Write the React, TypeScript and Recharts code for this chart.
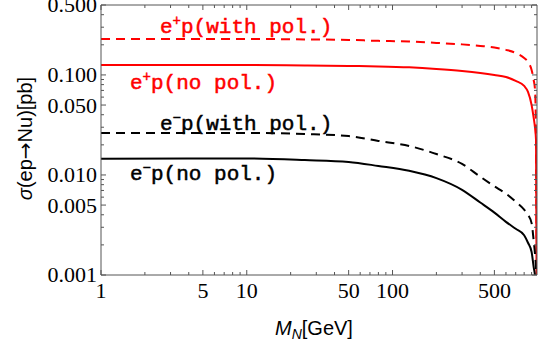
import React from "react"
import { LineChart, Line, XAxis, YAxis } from "recharts"

// heavy neutrino mass grid [GeV] and cross sections [pb]
const massGeV = [1, 10, 25, 50, 80, 130, 200, 300, 400, 500, 600, 700, 800, 850, 900, 930, 950, 965, 975]
const sigmaPlusPol = [0.229, 0.229, 0.2265, 0.224, 0.219, 0.216, 0.209, 0.202, 0.195, 0.188, 0.178, 0.166, 0.148, 0.135, 0.112, 0.089, 0.071, 0.022, 0.0005]
const sigmaPlusNoPol = [0.126, 0.126, 0.1245, 0.123, 0.1216, 0.119, 0.1148, 0.1096, 0.1047, 0.1, 0.0955, 0.0871, 0.0776, 0.0676, 0.0501, 0.0372, 0.0295, 0.0224, 0.0005]
const sigmaMinusPol = [0.0263, 0.0263, 0.0257, 0.0245, 0.0219, 0.0195, 0.0162, 0.0129, 0.0096, 0.0077, 0.0065, 0.0054, 0.0045, 0.004, 0.0033, 0.0022, 0.0016, 0.0011, 0.0005]
const sigmaMinusNoPol = [0.0145, 0.0146, 0.0141, 0.0135, 0.0123, 0.011, 0.0093, 0.0071, 0.0053, 0.0042, 0.0034, 0.0029, 0.0025, 0.0021, 0.0017, 0.0012, 0.00098, 0.0007, 0.0005]

const yMajorTicks = [0.001, 0.005, 0.01, 0.05, 0.1, 0.5]
const yMinorTicks = [0.002, 0.003, 0.004, 0.006, 0.007, 0.008, 0.009, 0.02, 0.03, 0.04, 0.06, 0.07, 0.08, 0.09, 0.2, 0.3, 0.4]
const xMajorTicks = [1, 5, 10, 50, 100, 500]
const xMinorTicks = [2, 3, 4, 6, 7, 8, 9, 20, 30, 40, 60, 70, 80, 90, 200, 300, 400, 600, 700, 800, 900]

const data = massGeV.map((m, i) => ({
  m,
  plusPol: sigmaPlusPol[i],
  plusNoPol: sigmaPlusNoPol[i],
  minusPol: sigmaMinusPol[i],
  minusNoPol: sigmaMinusNoPol[i],
}))

const yTicks = [...yMajorTicks, ...yMinorTicks].sort((a, b) => a - b)
const xTicks = [...xMajorTicks, ...xMinorTicks].sort((a, b) => a - b)

const FRAME = "#555"
const tickFont = "'Liberation Serif', 'Times New Roman', serif"
const monoFont = "'Liberation Mono', 'Courier New', monospace"
const sansFont = "'Liberation Sans', Arial, sans-serif"

const isMajor = (list: number[], v: number) => list.some((t) => Math.abs(t - v) < 1e-9)

function FrameTick(props: any) {
  const { x, y, payload, side } = props
  const v = payload.value
  const major = isMajor(side === "left" || side === "right" ? yMajorTicks : xMajorTicks, v)
  const len = major ? 5 : 3
  if (side === "left") {
    return (
      <g>
        <line x1={x} y1={y} x2={x + len} y2={y} stroke={FRAME} />
        {major && (
          <text x={x - 4} y={y} dy="0.34em" textAnchor="end" fontFamily={tickFont} fontSize={22} fill="#000">
            {v.toFixed(3)}
          </text>
        )}
      </g>
    )
  }
  if (side === "right") {
    return <line x1={x} y1={y} x2={x - len} y2={y} stroke={FRAME} />
  }
  if (side === "top") {
    return <line x1={x} y1={y} x2={x} y2={y + len} stroke={FRAME} />
  }
  return (
    <g>
      <line x1={x} y1={y} x2={x} y2={y - len} stroke={FRAME} />
      {major && (
        <text x={x} y={y + 23} textAnchor="middle" fontFamily={tickFont} fontSize={22} fill="#000">
          {String(v)}
        </text>
      )}
    </g>
  )
}

// curve captions, monospace with a light extra stroke for a medium weight
function Note({ x, y, color, sign, rest }: { x: number; y: number; color: string; sign: string; rest: string }) {
  return (
    <text
      x={x}
      y={y}
      fontFamily={monoFont}
      fontSize={21}
      fill={color}
      stroke={color}
      strokeWidth={0.5}
      style={{ whiteSpace: "pre" }}
    >
      e
      <tspan fontSize={14} dy={-8}>{sign}</tspan>
      <tspan dy={8}>{rest}</tspan>
    </text>
  )
}

export default function App() {
  return (
    <div style={{ position: "absolute", left: 0, top: 0, background: "#fff" }}>
      <LineChart width={545} height={343} data={data} margin={{ top: 0, right: 0, left: 0, bottom: 0 }}>
        <XAxis
          dataKey="m"
          type="number"
          scale="log"
          domain={[1, 980]}
          ticks={xTicks}
          interval={0}
          height={68}
          tickSize={0}
          tickMargin={0}
          tickLine={false}
          axisLine={{ stroke: FRAME }}
          allowDataOverflow
          tick={(p: any) => <FrameTick {...p} side="bottom" />}
        />
        <XAxis
          xAxisId="top"
          orientation="top"
          dataKey="m"
          type="number"
          scale="log"
          domain={[1, 980]}
          ticks={xTicks}
          interval={0}
          height={5}
          tickSize={0}
          tickMargin={0}
          tickLine={false}
          axisLine={{ stroke: FRAME }}
          allowDataOverflow
          tick={(p: any) => <FrameTick {...p} side="top" />}
        />
        <YAxis
          type="number"
          scale="log"
          domain={[0.001, 0.5]}
          ticks={yTicks}
          interval={0}
          width={101}
          tickSize={0}
          tickMargin={0}
          tickLine={false}
          axisLine={{ stroke: FRAME }}
          allowDataOverflow
          tick={(p: any) => <FrameTick {...p} side="left" />}
        />
        <YAxis
          yAxisId="right"
          orientation="right"
          type="number"
          scale="log"
          domain={[0.001, 0.5]}
          ticks={yTicks}
          interval={0}
          width={8}
          tickSize={0}
          tickMargin={0}
          tickLine={false}
          axisLine={{ stroke: FRAME }}
          allowDataOverflow
          tick={(p: any) => <FrameTick {...p} side="right" />}
        />
        <Line dataKey="plusPol" type="monotone" stroke="#ff0000" strokeWidth={2} strokeDasharray="9 6" dot={false} isAnimationActive={false} />
        <Line dataKey="plusNoPol" type="monotone" stroke="#ff0000" strokeWidth={2} dot={false} isAnimationActive={false} />
        <Line dataKey="minusPol" type="monotone" stroke="#000" strokeWidth={2} strokeDasharray="9 6" dot={false} isAnimationActive={false} />
        <Line dataKey="minusNoPol" type="monotone" stroke="#000" strokeWidth={2} dot={false} isAnimationActive={false} />

        <Note x={160} y={33} color="#ff0000" sign="+" rest="p(with pol.)" />
        <Note x={130} y={89} color="#ff0000" sign="+" rest="p(no pol.)" />
        <Note x={160} y={130} color="#000" sign="−" rest="p(with pol.)" />
        <Note x={130} y={180} color="#000" sign="−" rest="p(no pol.)" />

        <text transform="rotate(-90)" x={-138.5} y={32} textAnchor="middle" fontFamily={sansFont} fontSize={20} fill="#000">
          <tspan fontStyle="italic">σ</tspan>(ep<tspan fontFamily="'DejaVu Sans', sans-serif">→</tspan>Nu)[pb]
        </text>
        <text x={275} y={335} fontFamily={sansFont} fontSize={20} fill="#000">
          <tspan fontStyle="italic">M</tspan>
          <tspan fontStyle="italic" fontSize={14} dy={4}>N</tspan>
          <tspan dy={-4}>[GeV]</tspan>
        </text>
      </LineChart>
    </div>
  )
}
